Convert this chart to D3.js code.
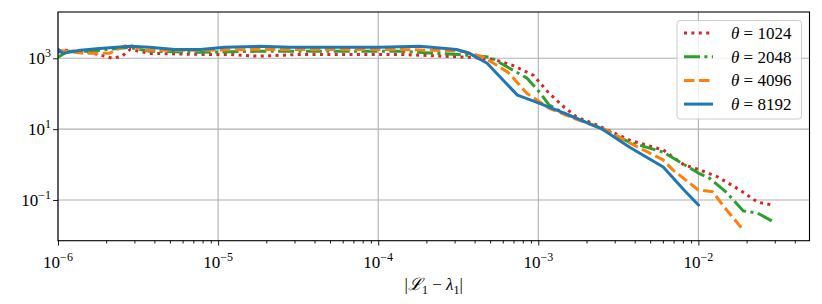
<!DOCTYPE html>
<html><head><meta charset="utf-8">
<script src="https://cdn.jsdelivr.net/npm/d3@7"></script>
<style>
body{margin:0;background:#fff;}
</style></head>
<body><svg id="c" width="822" height="304"></svg>
<script>
const seriesNames = ["θ = 1024","θ = 2048","θ = 4096","θ = 8192"];
const thetaValues = ["1024","2048","4096","8192"];
const x1024 = [1.0e-6,1.07e-6,1.58e-6,2.19e-6,2.51e-6,2.82e-6,3.72e-6,7.76e-6,1.17e-5,1.78e-5,3.24e-5,1.38e-4,3.72e-4,5.25e-4,6.92e-4,9.33e-4,1.17e-3,1.45e-3,1.74e-3,2.34e-3,3.72e-3,6.03e-3,8.13e-3,1.02e-2,1.32e-2,1.82e-2,2.34e-2,2.88e-2];
const y1024 = [1479,1698,1479,1000,1148,1778,1380,1288,1288,1148,1288,1288,1072,933,631,331,102,41.7,21.9,12.9,4.90,2.57,0.977,0.708,0.447,0.191,0.0871,0.0724];
const x2048 = [1.0e-6,1.15e-6,1.58e-6,2.75e-6,3.72e-6,7.76e-6,1.82e-5,5.01e-5,1.38e-4,3.89e-4,5.01e-4,6.61e-4,8.51e-4,1.02e-3,1.17e-3,1.45e-3,2.34e-3,3.72e-3,6.03e-3,1.0e-2,1.17e-2,1.51e-2,1.91e-2,2.34e-2,2.95e-2];
const y2048 = [1072,1585,1585,2042,1585,1479,1585,1585,1585,1202,1072,525,275,110,47.9,28.2,11.5,4.27,2.24,0.575,0.417,0.158,0.0490,0.0427,0.0240];
const x4096 = [1.0e-6,1.48e-6,2.09e-6,2.75e-6,3.47e-6,7.76e-6,1.82e-5,5.01e-5,1.38e-4,3.39e-4,4.57e-4,6.46e-4,8.51e-4,1.17e-3,1.66e-3,2.69e-3,3.72e-3,6.03e-3,6.92e-3,1.0e-2,1.23e-2,1.45e-2,1.91e-2];
const y4096 = [1698,1380,1380,2455,1698,1698,1778,1778,1778,1585,1072,407,102,38.9,20.4,9.33,4.07,1.35,0.708,0.191,0.170,0.0631,0.0141];
const x8192 = [1.0e-6,1.07e-6,1.38e-6,1.82e-6,2.82e-6,3.72e-6,5.37e-6,7.76e-6,1.10e-5,1.82e-5,2.82e-5,5.01e-5,1.02e-4,1.82e-4,3.09e-4,3.72e-4,4.79e-4,7.41e-4,1.02e-3,1.45e-3,2.04e-3,2.45e-3,3.72e-3,6.03e-3,8.13e-3,1.0e-2];
const y8192 = [1778,1380,1698,1905,2188,2042,1778,1778,2042,2188,2042,2042,2042,2188,1778,1380,724,91.2,53.7,28.2,14.8,10.7,3.09,0.851,0.191,0.0724];
const xTicks = [1e-6,1e-5,1e-4,1e-3,1e-2];
const xTickExps = ["−6","−5","−4","−3","−2"];
const yTicks = [1e3,1e1,1e-1];
const yTickExps = ["3","1","−1"];

const FONT = "'Liberation Serif','DejaVu Serif',serif";
const colors = ["#d62728","#2ca02c","#ff7f0e","#1f77b4"];
const dashes = ["3,4.4","16,4.4,3,4.4","10.5,4.5",null];
const series = [
  {name:seriesNames[0], xs:x1024, ys:y1024},
  {name:seriesNames[1], xs:x2048, ys:y2048},
  {name:seriesNames[2], xs:x4096, ys:y4096},
  {name:seriesNames[3], xs:x8192, ys:y8192}
];

const svg = d3.select("#c");
const L=58, R=809.5, T=12, B=240.7;
const x = d3.scaleLog().domain([1e-6, Math.pow(10,-1.306)]).range([L,R]);
const y = d3.scaleLog().domain([Math.pow(10,-2.15), Math.pow(10,4.308)]).range([B,T]);

// grid
const g = svg.append("g");
g.selectAll(".gx").data(xTicks).join("line")
  .attr("x1",d=>x(d)).attr("x2",d=>x(d)).attr("y1",T).attr("y2",B)
  .attr("stroke","#b0b0b0").attr("stroke-width",1.1);
g.selectAll(".gy").data(yTicks).join("line")
  .attr("y1",d=>y(d)).attr("y2",d=>y(d)).attr("x1",L).attr("x2",R)
  .attr("stroke","#b0b0b0").attr("stroke-width",1.1);

// lines
svg.append("clipPath").attr("id","cp").append("rect")
  .attr("x",L).attr("y",T).attr("width",R-L).attr("height",B-T);
const line = d3.line().x(d=>x(d[0])).y(d=>y(d[1]));
series.forEach((s,i)=>{
  const pts = s.xs.map((v,j)=>[v,s.ys[j]]);
  svg.append("path").datum(pts).attr("d",line)
    .attr("clip-path","url(#cp)")
    .attr("fill","none").attr("stroke",colors[i]).attr("stroke-width",3)
    .attr("stroke-dasharray",dashes[i]).attr("stroke-linejoin","round")
    .attr("stroke-linecap", i===3?"square":"butt");
});

// axes
const minorX = [];
for(let e=-6;e<=-2;e++) for(let m=2;m<=9;m++){const v=m*Math.pow(10,e); if(v<=x.domain()[1]) minorX.push(v);}
svg.append("g").attr("transform",`translate(0,${B})`)
  .call(d3.axisBottom(x).tickValues(xTicks).tickSize(4.9).tickFormat(""));
svg.append("g").attr("transform",`translate(0,${B})`)
  .call(d3.axisBottom(x).tickValues(minorX).tickSize(2.8).tickFormat(""));
svg.append("g").attr("transform",`translate(${L},0)`)
  .call(d3.axisLeft(y).tickValues(yTicks).tickSize(4.9).tickFormat(""));
svg.selectAll(".domain").remove();
svg.selectAll(".tick line").attr("stroke","#000").attr("stroke-width",0.9);

// tick labels
xTicks.forEach((v,i)=>{
  const t = svg.append("text").attr("x",x(v)).attr("y",B+27).attr("text-anchor","middle")
    .attr("font-family",FONT).attr("font-size",17).attr("fill","#000");
  t.append("tspan").text("10");
  t.append("tspan").attr("dy",-7).attr("font-size",12).text(xTickExps[i]);
});
yTicks.forEach((v,i)=>{
  const t = svg.append("text").attr("x",L-7).attr("y",y(v)+6).attr("text-anchor","end")
    .attr("font-family",FONT).attr("font-size",17).attr("fill","#000");
  t.append("tspan").text("10");
  t.append("tspan").attr("dy",-7).attr("font-size",12).text(yTickExps[i]);
});

// frame
svg.append("rect").attr("x",L).attr("y",T).attr("width",R-L).attr("height",B-T)
  .attr("fill","none").attr("stroke","#000").attr("stroke-width",1.1);

// x label
const xl = svg.append("text").attr("x",(L+R)/2).attr("y",290).attr("text-anchor","middle")
  .attr("font-family",FONT).attr("font-size",17).attr("fill","#000");
xl.append("tspan").text("|");
xl.append("tspan").attr("font-style","italic").text("ℒ");
xl.append("tspan").attr("dy",4).attr("font-size",12).text("1");
xl.append("tspan").attr("dy",-4).text(" − ");
xl.append("tspan").attr("font-style","italic").text("λ");
xl.append("tspan").attr("dy",4).attr("font-size",12).text("1");
xl.append("tspan").attr("dy",-4).text("|");

// legend
const lg = svg.append("g");
lg.append("rect").attr("x",677).attr("y",20.5).attr("width",124.5).attr("height",98.5)
  .attr("rx",3).attr("fill","#fff").attr("fill-opacity",0.8)
  .attr("stroke","#cccccc").attr("stroke-width",1);
series.forEach((s,i)=>{
  const yy = 33 + i*23.7;
  lg.append("line").attr("x1",684).attr("x2",713).attr("y1",yy).attr("y2",yy)
    .attr("stroke",colors[i]).attr("stroke-width",3).attr("stroke-dasharray",dashes[i]);
  const t = lg.append("text").attr("x",731).attr("y",yy+6).attr("font-family",FONT)
    .attr("font-size",17).attr("fill","#000");
  t.append("tspan").attr("font-style","italic").text("θ");
  t.append("tspan").text(" = " + thetaValues[i]);
});
</script></body></html>
